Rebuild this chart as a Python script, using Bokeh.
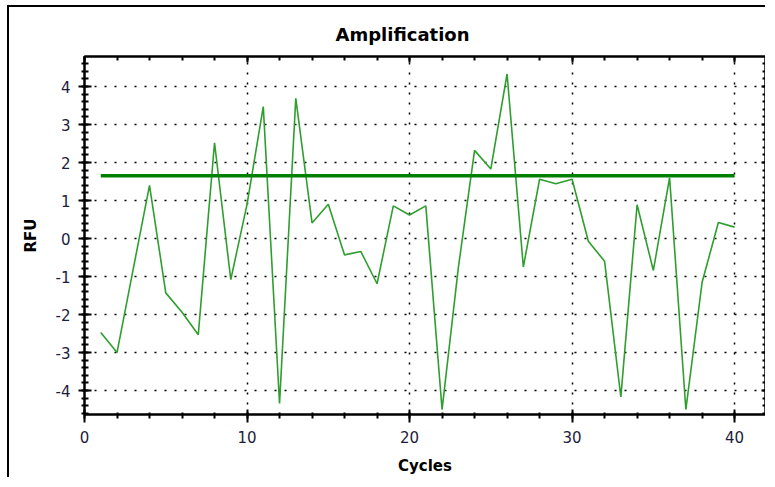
from bokeh.plotting import figure
from bokeh.models import (Range1d, SingleIntervalTicker, LinearAxis, ColumnDataSource,
                          CustomJSTickFormatter)
from bokeh.embed import file_html
from bokeh.resources import INLINE

# ---- data ----
cycles = [1, 2, 3, 4, 5, 6, 7, 8, 9, 10,
          11, 12, 13, 14, 15, 16, 17, 18, 19, 20,
          21, 22, 23, 24, 25, 26, 27, 28, 29, 30,
          31, 32, 33, 34, 35, 36, 37, 38, 39, 40]
rfu = [-2.47, -3.0, -0.8, 1.4, -1.43, -1.94, -2.53, 2.52, -1.08, 0.9,
       3.47, -4.34, 3.69, 0.41, 0.9, -0.43, -0.34, -1.19, 0.86, 0.62,
       0.86, -4.5, -0.77, 2.32, 1.83, 4.33, -0.75, 1.56, 1.44, 1.56,
       -0.07, -0.6, -4.17, 0.89, -0.84, 1.6, -4.5, -1.15, 0.42, 0.3]
threshold_x = [1, 40]
threshold_y = [1.65, 1.65]

title_text = "Amplification"
x_label = "Cycles"
y_label = "RFU"

FONT = "DejaVu Sans"
LABEL_COLOR = "#1c1c3c"

p = figure(width=758, height=472, output_backend="svg", toolbar_location=None,
           x_range=Range1d(0, 41.9), y_range=Range1d(-4.63, 4.79),
           min_border_left=75, min_border_top=49, min_border_right=2,
           min_border_bottom=65, title=title_text)
p.styles = {"margin-left": "7px", "margin-top": "5px",
            "border-left": "2px solid black", "border-top": "2px solid black"}

p.title.text_font = FONT
p.title.text_font_size = "18px"
p.title.text_font_style = "bold"
p.title.text_color = "black"
p.title.align = "left"
p.title.offset = 251
p.title.standoff = 23

p.outline_line_color = "black"
p.outline_line_width = 2
p.outline_line_alpha = 1

xt = SingleIntervalTicker(interval=10, num_minor_ticks=5)
yt = SingleIntervalTicker(interval=1, num_minor_ticks=5)
int_fmt = CustomJSTickFormatter(code="return Math.round(tick).toFixed(0)")

xa = p.xaxis[0]
xa.ticker = xt
xa.axis_label = x_label
ya = p.yaxis[0]
ya.ticker = yt
ya.axis_label = y_label
ya.formatter = int_fmt

for ax in (xa, ya):
    ax.axis_line_color = "black"
    ax.axis_line_width = 2
    ax.major_tick_line_color = "black"
    ax.major_tick_line_width = 2
    ax.minor_tick_line_color = "black"
    ax.minor_tick_line_width = 2
    ax.major_label_text_font = FONT
    ax.major_label_text_font_size = "15px"
    ax.major_label_text_color = LABEL_COLOR
    ax.major_label_standoff = 8
    ax.axis_label_text_font = FONT
    ax.axis_label_text_font_size = "15px"
    ax.axis_label_text_font_style = "bold"
    ax.axis_label_text_color = "black"

xa.major_tick_in = 5
xa.major_tick_out = 8
xa.minor_tick_in = 2
xa.minor_tick_out = 4
xa.axis_label_standoff = 11

ya.major_tick_in = 7
ya.major_tick_out = 6
ya.minor_tick_in = 4
ya.minor_tick_out = 3
ya.axis_label_standoff = 13

blank = CustomJSTickFormatter(code="return ''")

# mirrored axes (ticks only)
top = LinearAxis(ticker=SingleIntervalTicker(interval=10, num_minor_ticks=5),
                 formatter=blank, major_label_standoff=0,
                 axis_line_color="black", axis_line_width=2,
                 major_tick_in=6, major_tick_out=0, minor_tick_in=4, minor_tick_out=0,
                 major_tick_line_width=2, minor_tick_line_width=2)
right = LinearAxis(ticker=SingleIntervalTicker(interval=1, num_minor_ticks=5),
                   formatter=blank, major_label_standoff=0,
                   axis_line_color="black", axis_line_width=2,
                   major_tick_in=4, major_tick_out=1, minor_tick_in=3, minor_tick_out=1,
                   major_tick_line_width=2, minor_tick_line_width=2)
p.add_layout(top, "above")
p.add_layout(right, "right")

for g in (p.xgrid[0], p.ygrid[0]):
    g.grid_line_color = "black"
    g.grid_line_dash = "2 8"
    g.grid_line_width = 1.5
p.xgrid[0].ticker = xt
p.ygrid[0].ticker = yt

src = ColumnDataSource(dict(x=cycles, y=rfu))
p.line("x", "y", source=src, line_color="#2e9e2e", line_width=1.6)
p.line(threshold_x, threshold_y, line_color="#008000", line_width=3.5)

open("out.html", "w").write(file_html(p, INLINE))
